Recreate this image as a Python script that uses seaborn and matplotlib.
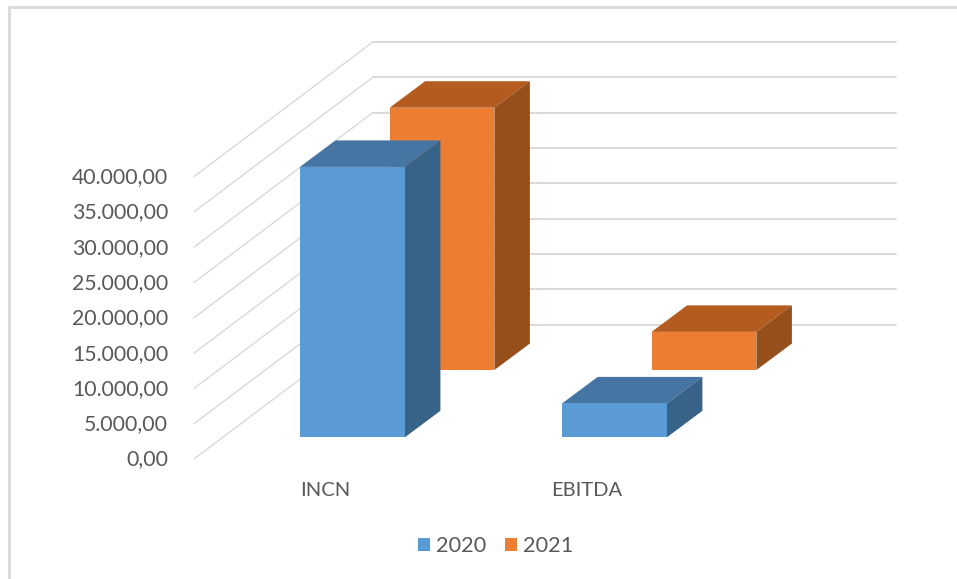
import numpy as np
import matplotlib
matplotlib.use('Agg')
import matplotlib.pyplot as plt
from matplotlib.lines import Line2D
from matplotlib.patches import Polygon
from matplotlib.transforms import ScaledTranslation
import seaborn as sns

categories = ['INCN', 'EBITDA']
values_2020 = [38300, 4800]
values_2021 = [37150, 5400]
y_ticks = [0, 5000, 10000, 15000, 20000, 25000, 30000, 35000, 40000]
y_labels = ['0,00', '5.000,00', '10.000,00', '15.000,00', '20.000,00',
            '25.000,00', '30.000,00', '35.000,00', '40.000,00']

W, H = 957, 579
GREY = '#D9D9D9'
TEXT = '#595959'

# pixel layout of the fake 3D box
left, right, top, bottom = 194, 896, 41.7, 459
px_x = 1 / 262          # category units per pixel
px_y = 5000 / 35.3      # value units per pixel

sns.set_style("white")
plt.rcParams['font.family'] = ['Lato', 'DejaVu Sans']

fig = plt.figure(figsize=(W / 100, H / 100), dpi=100)
ax = fig.add_axes([left / W, 1 - bottom / H, (right - left) / W, (bottom - top) / H])
ax.patch.set_alpha(0)
positions = np.arange(len(categories))

# each series: colour, top shade, side shade, x shift, floor lift, layer
series = [
    ('2021', values_2021, '#ED7D31', '#B45C20', '#964F1B', 64.5, 89, 2),
    ('2020', values_2020, '#5B9BD5', '#4675A3', '#386388', -25, 21.7, 4),
]

handles = {}
for name, vals, col, col_top, col_side, shift, lift, layer in series:
    before = len(ax.patches)
    sns.barplot(x=positions + (shift + 52.5) * px_x, y=vals, native_scale=True,
                width=0.4, color=col, saturation=1, bottom=lift * px_y,
                linewidth=0, zorder=layer + 0.5, ax=ax)
    for bar in ax.patches[before:]:
        x0, y0 = bar.get_x(), bar.get_y()
        x1, y1 = x0 + bar.get_width(), y0 + bar.get_height()
        dx, dy = 35.5 * px_x, 26.5 * px_y
        ax.add_patch(Polygon([(x0, y1), (x1, y1), (x1 + dx, y1 + dy), (x0 + dx, y1 + dy)],
                             facecolor=col_top, edgecolor='none', zorder=layer))
        ax.add_patch(Polygon([(x1, y0), (x1, y1), (x1 + dx, y1 + dy), (x1 + dx, y0 + dy)],
                             facecolor=col_side, edgecolor='none', zorder=layer))
    handles[name] = ax.patches[before]

# gridlines run up the side wall, then along the back wall
depth_x, depth_y = 178.7 * px_x, 134.5 * px_y
xmin, xmax = -131 * px_x, 571 * px_x
for v in y_ticks:
    ax.plot([xmin, xmin + depth_x], [v, v + depth_y], color=GREY, lw=1, zorder=1, clip_on=False)
    ax.plot([xmin + depth_x, xmax], [v + depth_y, v + depth_y], color=GREY, lw=1.4, zorder=1, clip_on=False)

ax.set_xlim(xmin, xmax)
ax.set_ylim(0, (bottom - top) * px_y)
ax.set_yticks(y_ticks)
ax.set_yticklabels(y_labels, fontsize=15.3, color=TEXT)
ax.set_xticks(positions)
ax.set_xticklabels(categories, fontsize=14.5, color=TEXT)
ax.tick_params(axis='y', length=0, pad=18.5)
ax.tick_params(axis='x', length=0, pad=16.5)
ax.set_xlabel('')
ax.set_ylabel('')
sns.despine(ax=ax, left=True, bottom=True)

# value labels sit a touch above the wall lines
nudge = ScaledTranslation(0, 1.5 / 100, fig.dpi_scale_trans)
for lbl in ax.get_yticklabels():
    lbl.set_transform(lbl.get_transform() + nudge)

fig.legend([handles['2020'], handles['2021']], ['2020', '2021'], ncols=2, frameon=False,
           loc='center', bbox_to_anchor=(495.5 / W, 1 - 546.5 / H), fontsize=15.6, labelcolor=TEXT,
           handlelength=0.55, handleheight=0.55, handletextpad=0.28, columnspacing=0.85)

# chart area border, the right and bottom edges fall off the picture
fig.add_artist(Line2D([9 / W, 9 / W], [0, 1 - 7 / H], color=GREY, lw=2))
fig.add_artist(Line2D([9 / W, 1], [1 - 7 / H, 1 - 7 / H], color=GREY, lw=2))

plt.savefig('out.png', dpi=100)
